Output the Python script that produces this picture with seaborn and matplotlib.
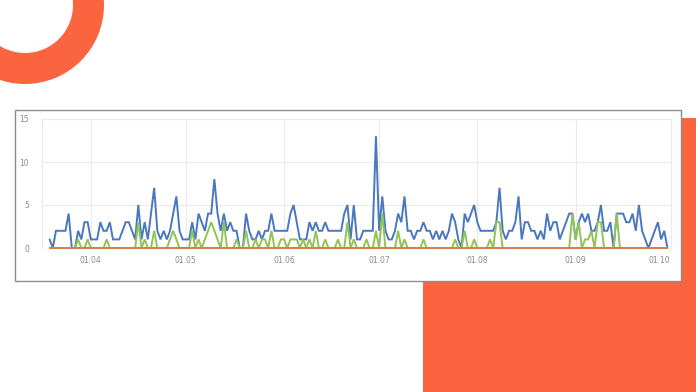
import matplotlib
matplotlib.use("Agg")
import matplotlib.pyplot as plt
from matplotlib.patches import Wedge, Rectangle
import numpy as np
import pandas as pd
import seaborn as sns

# ---- data (daily values, 19.03 - 30.09) ----
start_date = "2019-03-19"
end_date = "2019-09-30"

series_blue = [
    1, 0, 2, 2, 2, 2, 4, 0, 0, 2,
    1, 3, 3, 1, 1, 1, 3, 2, 2, 3,
    1, 1, 1, 2, 3, 3, 2, 1, 5, 1,
    3, 1, 4, 7, 2, 1, 2, 1, 2, 4,
    6, 2, 1, 1, 1, 3, 1, 4, 3, 2,
    4, 4, 8, 4, 2, 4, 2, 3, 2, 2,
    0, 0, 4, 2, 1, 1, 2, 1, 2, 2,
    4, 2, 2, 2, 2, 2, 4, 5, 3, 1,
    1, 1, 3, 2, 3, 2, 2, 3, 2, 2,
    2, 2, 2, 4, 5, 1, 5, 1, 1, 2,
    2, 2, 2, 13, 2, 6, 2, 1, 1, 2,
    4, 3, 6, 2, 2, 1, 2, 2, 3, 2,
    2, 1, 2, 1, 2, 1, 2, 4, 3, 1,
    0, 4, 3, 4, 5, 3, 2, 2, 2, 2,
    2, 3, 7, 2, 1, 2, 2, 3, 6, 1,
    3, 3, 2, 2, 1, 2, 1, 4, 2, 3,
    3, 1, 2, 3, 4, 4, 1, 3, 4, 3,
    4, 2, 2, 3, 5, 2, 2, 3, 0, 4,
    4, 4, 3, 3, 4, 2, 5, 2, 1, 0,
    1, 2, 3, 1, 2, 0,
]

series_green = [
    0, 0, 0, 0, 0, 0, 0, 0, 0, 1,
    0, 0, 1, 0, 0, 0, 0, 0, 1, 0,
    0, 0, 0, 0, 0, 0, 0, 0, 3, 0,
    1, 0, 0, 2, 0, 0, 0, 0, 1, 2,
    1, 0, 0, 0, 0, 2, 0, 1, 0, 1,
    2, 3, 2, 1, 0, 3, 0, 0, 0, 1,
    0, 0, 2, 0, 0, 1, 0, 1, 1, 0,
    2, 0, 0, 1, 1, 0, 1, 1, 1, 0,
    1, 0, 1, 0, 2, 0, 0, 1, 0, 0,
    0, 1, 0, 0, 3, 0, 1, 0, 0, 0,
    1, 0, 0, 2, 0, 4, 0, 0, 0, 0,
    2, 0, 1, 0, 0, 0, 0, 0, 1, 0,
    0, 0, 0, 0, 0, 0, 0, 0, 1, 0,
    0, 2, 0, 0, 1, 0, 0, 0, 0, 1,
    0, 3, 3, 0, 0, 0, 0, 0, 0, 0,
    0, 0, 0, 0, 0, 0, 0, 0, 0, 0,
    0, 0, 0, 0, 0, 4, 1, 3, 0, 1,
    1, 2, 0, 3, 3, 0, 0, 0, 0, 4,
    0, 0, 0, 0, 0, 0, 0, 0, 0, 0,
    0, 0, 0, 0, 0, 0,
]

series_orange = [0] * len(series_blue)

tick_dates = ["2019-04-01", "2019-05-01", "2019-06-01", "2019-07-01",
              "2019-08-01", "2019-09-01", "2019-10-01"]
tick_labels = ["01.04", "01.05", "01.06", "01.07", "01.08", "01.09", "01.10"]
y_ticks = [0, 5, 10, 15]

# ---- build table ----
dates = pd.date_range(start_date, end_date, freq="D")
df = pd.concat([
    pd.DataFrame({"date": dates, "value": series_blue, "series": "a"}),
    pd.DataFrame({"date": dates, "value": series_green, "series": "b"}),
    pd.DataFrame({"date": dates, "value": series_orange, "series": "c"}),
], ignore_index=True)

sns.set_theme(style="white")
plt.rcParams["font.family"] = ["DejaVu Sans"]

W, H = 696, 392
fig = plt.figure(figsize=(W / 100, H / 100), dpi=100)
fig.patch.set_facecolor("white")

# ---- background decorations (pixel coordinates) ----
bg = fig.add_axes([0, 0, 1, 1], zorder=0)
bg.set_xlim(0, W)
bg.set_ylim(H, 0)
bg.axis("off")
orange = "#FA643F"
bg.add_patch(Wedge((25, 5), 79, 0, 360, width=31, facecolor=orange, edgecolor="none"))
bg.add_patch(Rectangle((423, 118), 280, 280, facecolor=orange, edgecolor="none"))
bg.add_patch(Rectangle((15, 110), 666, 171, facecolor="white", edgecolor="#8c8c8c", linewidth=1.0))

# ---- chart axes ----
left_px, right_px, top_px, bottom_px = 41.7, 671, 119, 248
ax = fig.add_axes([left_px / W, 1 - bottom_px / H, (right_px - left_px) / W, (bottom_px - top_px) / H], zorder=2)
ax.set_facecolor("none")

sns.lineplot(data=df, x="date", y="value", hue="series", hue_order=["a", "b", "c"],
             palette={"a": "#4A77C2", "b": "#8FC555", "c": "#D97A4A"},
             linewidth=1.4, legend=False, ax=ax, estimator=None)
for ln in ax.get_lines():
    ln.set_clip_on(False)
    ln.set_solid_joinstyle("miter")

ax.set_xlim(pd.Timestamp("2019-03-16 12:00"), pd.Timestamp("2019-10-01 03:00"))
ax.set_ylim(0, 15)
ax.set_xticks(pd.to_datetime(tick_dates))
ax.set_xticklabels(tick_labels)
ax.set_yticks(y_ticks)
ax.set_yticklabels([str(v) for v in y_ticks])
ax.set_xlabel("")
ax.set_ylabel("")
ax.grid(True, color="#ebebeb", linewidth=0.8)
ax.set_axisbelow(True)
for s in ["left", "top", "right"]:
    ax.spines[s].set_color("#ebebeb")
    ax.spines[s].set_linewidth(0.8)
ax.spines["bottom"].set_visible(False)
ax.tick_params(axis="both", length=0, labelsize=5.5, labelcolor="#8a8a8a")
ax.tick_params(axis="y", pad=9)
ax.tick_params(axis="x", pad=6)
labels = ax.get_xticklabels()
labels[-1].set_horizontalalignment("right")

fig.savefig("out.png", dpi=100, facecolor="white")
